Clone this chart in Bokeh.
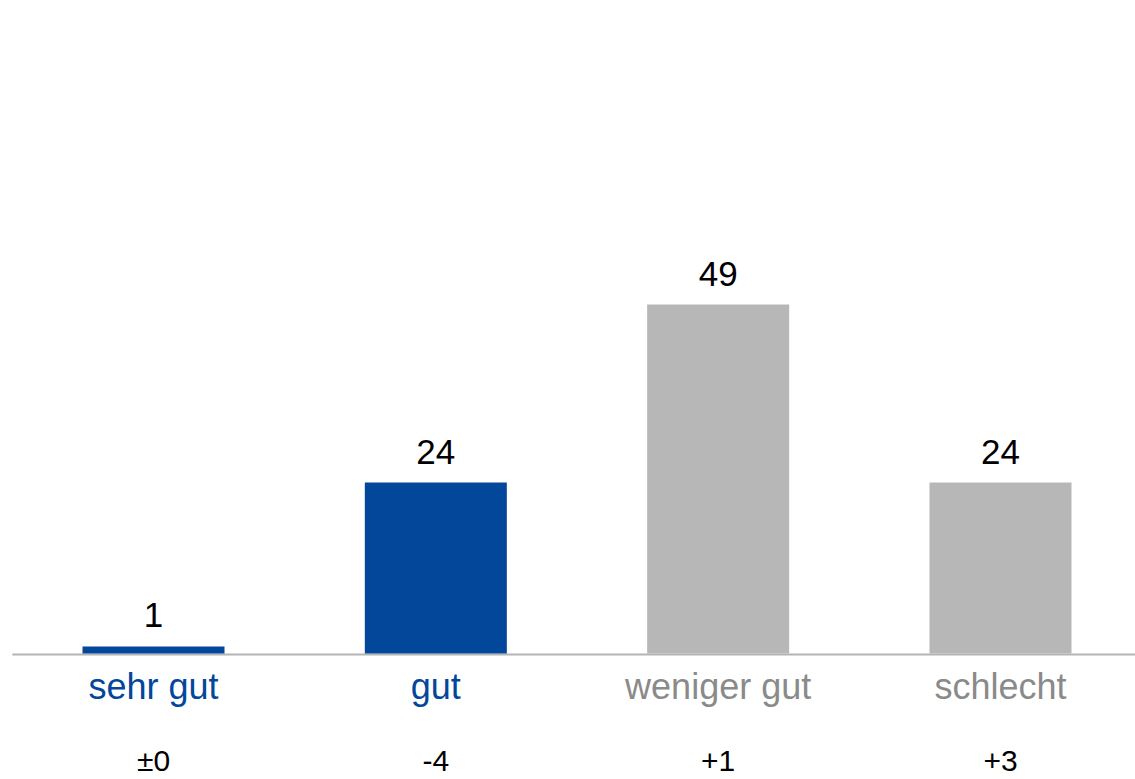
from bokeh.plotting import figure
from bokeh.models import ColumnDataSource, Range1d
from bokeh.core.properties import value
from bokeh.embed import file_html
from bokeh.resources import INLINE

categories = ["sehr gut", "gut", "weniger gut", "schlecht"]
values = [1, 24, 49, 24]
changes = ["±0", "-4", "+1", "+3"]

BLUE = "#03479B"
GREY_BAR = "#B7B7B7"
GREY_TXT = "#8A8A8A"
bar_colors = [BLUE, BLUE, GREY_BAR, GREY_BAR]
label_colors = [BLUE, BLUE, GREY_TXT, GREY_TXT]

W, H = 1135, 779
step = 282.33
x0 = -153 / step
x1 = x0 + W / step
ppu = 7.12
base_px = 653
y1 = base_px / ppu
y0 = -(H - base_px) / ppu

p = figure(width=W, height=H, output_backend="svg", toolbar_location=None,
           x_range=Range1d(x0, x1), y_range=Range1d(y0, y1),
           min_border=0, min_border_left=0, min_border_right=0,
           min_border_top=0, min_border_bottom=0)
p.axis.visible = False
p.grid.visible = False
p.outline_line_color = None
p.background_fill_color = "white"
p.border_fill_color = "white"

xs = list(range(len(categories)))
src = ColumnDataSource(dict(x=xs, top=values, color=bar_colors,
                            lbl=[str(v) for v in values],
                            ly=[v + 31 / ppu for v in values],
                            cat=categories, ccol=label_colors,
                            cy=[-33 / ppu] * len(xs),
                            chg=changes, chy=[-107 / ppu] * len(xs)))

p.segment(x0=[-0.5], y0=[-0.15], x1=[x1], y1=[-0.15], line_color="#B4B4B4", line_width=2)
p.vbar(x="x", top="top", bottom=0, width=0.503, fill_color="color", line_color=None, source=src)

p.text(x="x", y="ly", text="lbl", source=src, text_align="center", text_baseline="alphabetic",
       text_font=value("Liberation Sans"), text_font_size="35px", text_color="#000000")
p.text(x="x", y="cy", text="cat", source=src, text_align="center", text_baseline="alphabetic",
       text_font=value("Liberation Sans"), text_font_size="36px", text_color="ccol")
p.text(x="x", y="chy", text="chg", source=src, text_align="center", text_baseline="alphabetic",
       text_font=value("Liberation Sans"), text_font_size="30px", text_color="#000000")

open("out.html", "w").write(file_html(p, INLINE))
